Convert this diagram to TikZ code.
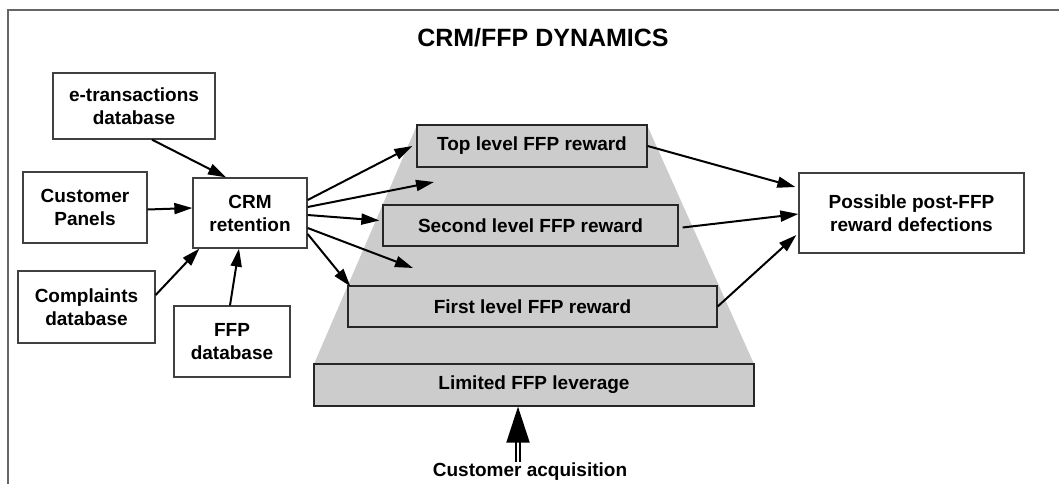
\documentclass[tikz,border=0pt]{standalone}
\usepackage{fontspec}
\setmainfont{Liberation Sans}
\usetikzlibrary{arrows.meta}
\tikzset{
    box/.style={draw=black!75, line width=1.3pt, fill=white, align=center, inner sep=0pt,
        font=\fontsize{19}{23}\selectfont\bfseries},
    levelbox/.style={box, draw=black!85, fill=black!20},
    arr/.style={line width=2pt, -{Triangle[length=18pt,width=11pt]}},
}
\begin{document}
\begin{tikzpicture}[x=1pt, y=-1pt]
    \useasboundingbox (0,0) rectangle (1059,484);
    \draw [black!60, line width=1.5pt] (8,484) -- (8,10) -- (1059,10);
    \node (title) at (543,38) {\fontsize{25}{30}\selectfont\bfseries CRM/FFP DYNAMICS};

    % reward levels
    \fill [black!20] (417,125) -- (647,125) -- (754,364) -- (314,364) -- cycle;
    \node [levelbox, minimum width=230pt, minimum height=42pt] (top) at (532,146) {Top level FFP reward};
    \node [levelbox, minimum width=295pt, minimum height=41pt] (second) at (530.5,225.5) {Second level FFP reward};
    \node [levelbox, minimum width=369pt, minimum height=41pt] (first) at (532.5,306.5) {First level FFP reward};
    \node [levelbox, minimum width=440pt, minimum height=42pt] (limited) at (534,385) {Limited FFP leverage};

    % sources
    \node [box, minimum width=162pt, minimum height=66pt] (etrans) at (134,106) {e-transactions\\database};
    \node [box, minimum width=124pt, minimum height=71pt] (panels) at (85,207.5) {Customer\\Panels};
    \node [box, minimum width=114pt, minimum height=70pt] (crm) at (250,213) {CRM\\retention};
    \node [box, minimum width=137pt, minimum height=72pt] (complaints) at (86.5,307) {Complaints\\database};
    \node [box, minimum width=116pt, minimum height=71pt] (ffpdb) at (232,341.5) {FFP\\database};
    \node [box, minimum width=225pt, minimum height=80pt] (defect) at (911.5,213) {Possible post-FFP\\reward defections};
    \node [font=\fontsize{19}{23}\selectfont\bfseries] (acq) at (530,472) {Customer acquisition};

    \coordinate (free1) at (434,182);
    \coordinate (free2) at (413,268);

    \draw [arr] ([xshift=18pt]etrans.south) -- ([xshift=-24pt]crm.north);
    \draw [arr] ([yshift=-2pt]panels.east) -- ([yshift=5pt]crm.west);
    \draw [arr] ([yshift=12pt]complaints.east) -- ([xshift=7pt]crm.south west);
    \draw [arr] ([xshift=-2pt]ffpdb.north) -- ([xshift=-11pt]crm.south);

    \draw [arr] ([yshift=13pt]crm.east) -- ([xshift=-4pt]top.west);
    \draw [arr] ([yshift=6pt]crm.east) -- (free1);
    \draw [arr] ([yshift=-2pt]crm.east) -- ([xshift=-3pt,yshift=5pt]second.west);
    \draw [arr] ([yshift=-15pt]crm.east) -- (free2);
    \draw [arr] ([yshift=-21pt]crm.east) -- ([xshift=3pt,yshift=-1pt]first.north west);

    \draw [arr] (top.east) -- ([xshift=-3pt,yshift=26pt]defect.west);
    \draw [arr] ([xshift=4pt,yshift=-2pt]second.east) -- ([yshift=-1pt]defect.west);
    \draw [arr] (first.east) -- ([xshift=-2pt,yshift=-22pt]defect.west);

    \draw [double, double distance=2.5pt, line width=2pt, -{Triangle[length=36pt,width=23pt]}]
        ([xshift=-12pt,yshift=-2pt]acq.north) -- ([xshift=-16pt]limited.south);
\end{tikzpicture}
\end{document}
